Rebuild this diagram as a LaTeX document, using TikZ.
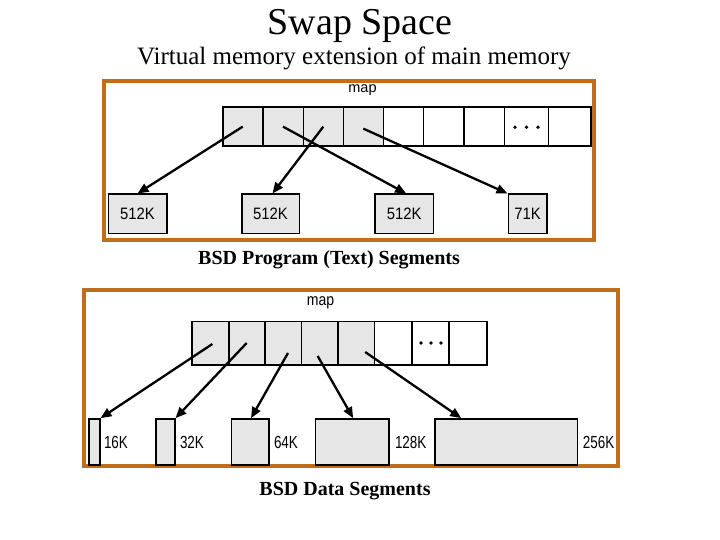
\documentclass[tikz,border=0pt]{standalone}
\usepackage{fontspec}
\setmainfont{Liberation Serif}
\setsansfont{Liberation Sans}
\usetikzlibrary{arrows.meta,calc}
\definecolor{framecol}{RGB}{192,110,28}
\definecolor{cellgray}{RGB}{230,230,230}
\tikzset{
  frame/.style={draw=framecol, line width=4pt},
  cell/.style={draw, line width=1.6pt, inner sep=0pt, fill=white},
  gcell/.style={cell, fill=cellgray},
  seg/.style={draw, line width=1.6pt, inner sep=0pt, fill=cellgray, font=\sffamily\fontsize{16.5}{17}\selectfont},
  lbl/.style={font=\sffamily\fontsize{17.5}{18}\selectfont, inner sep=0pt},
  arr/.style={line width=2.3pt, -{Triangle[length=11pt,width=9pt]}},
  dotc/.style={fill=black, circle, inner sep=0pt, minimum size=3.8pt},
  caption/.style={font=\fontsize{20}{22}\selectfont\bfseries, anchor=base}
}
\begin{document}
\begin{tikzpicture}[x=1pt,y=-1pt]
\useasboundingbox (0,0) rectangle (720,540);
\fill[white] (0,0) rectangle (720,540);

% titles
\node[anchor=base] (title) at (360,35) {\fontsize{38}{40}\selectfont Swap Space};
\node[anchor=base] (subtitle) at (354,65) {\fontsize{25}{27}\selectfont Virtual memory extension of main memory};

% ---------- top panel ----------
\draw[frame] (103.5,81) rectangle (593.5,239.5);
\node[font=\sffamily\fontsize{14.5}{15}\selectfont] (tmap) at (362.5,90) {map};
\node[gcell, minimum width=40pt,   minimum height=38.7pt] (t1) at (242.7,126.65) {};
\node[gcell, minimum width=40.6pt, minimum height=38.7pt] (t2) at (283,126.65) {};
\node[gcell, minimum width=40pt,   minimum height=38.7pt] (t3) at (323.3,126.65) {};
\node[gcell, minimum width=40pt,   minimum height=38.7pt] (t4) at (363.3,126.65) {};
\node[cell,  minimum width=40pt,   minimum height=38.7pt] (t5) at (403.3,126.65) {};
\node[cell,  minimum width=40.7pt, minimum height=38.7pt] (t6) at (443.65,126.65) {};
\node[cell,  minimum width=40.3pt, minimum height=38.7pt] (t7) at (484.15,126.65) {};
\node[cell,  minimum width=44pt,   minimum height=38.7pt] (t8) at (526.3,126.65) {};
\node[cell,  minimum width=42.4pt, minimum height=38.7pt] (t9) at (569.5,126.65) {};
\node[dotc] (td1) at (515,127.3) {};
\node[dotc] (td2) at (526.5,127.3) {};
\node[dotc] (td3) at (538,127.3) {};

\node[seg, minimum width=58.4pt, minimum height=39pt] (p1) at (137.5,213.8) {\scalebox{0.9}[1]{512K}};
\node[seg, minimum width=57.6pt, minimum height=39pt] (p2) at (270.5,213.8) {\scalebox{0.9}[1]{512K}};
\node[seg, minimum width=58.3pt, minimum height=39pt] (p3) at (404.15,213.8) {\scalebox{0.9}[1]{512K}};
\node[seg, minimum width=38.4pt, minimum height=39pt] (p4) at (527.5,213.8) {\scalebox{0.9}[1]{71K}};

\draw[arr] (t1.center) -- (p1.north);
\draw[arr] (t2.center) -- ($(p3.north)+(2,0)$);
\draw[arr] (t3.center) -- ($(p2.north)+(2,0)$);
\draw[arr] ($(t4.center)+(0,2)$) -- (p4.north west);

\node[caption] (cap1) at (329,264) {BSD Program (Text) Segments};

% ---------- bottom panel ----------
\draw[frame] (83.5,289.5) rectangle (617.5,466);
\node[font=\sffamily\fontsize{16.5}{17}\selectfont] (bmap) at (320.5,303) {\scalebox{0.85}[1]{map}};
\node[gcell, minimum width=36.7pt, minimum height=43.4pt] (b1) at (210.35,343) {};
\node[gcell, minimum width=36pt,   minimum height=43.4pt] (b2) at (246.7,343) {};
\node[gcell, minimum width=36.6pt, minimum height=43.4pt] (b3) at (283,343) {};
\node[gcell, minimum width=36.7pt, minimum height=43.4pt] (b4) at (319.65,343) {};
\node[gcell, minimum width=36.3pt, minimum height=43.4pt] (b5) at (356.15,343) {};
\node[cell,  minimum width=37.4pt, minimum height=43.4pt] (b6) at (393,343) {};
\node[cell,  minimum width=37.3pt, minimum height=43.4pt] (b7) at (430.35,343) {};
\node[cell,  minimum width=37.7pt, minimum height=43.4pt] (b8) at (467.85,343) {};
\node[dotc] (bd1) at (421,343) {};
\node[dotc] (bd2) at (431,343) {};
\node[dotc] (bd3) at (441,343) {};

\node[seg, minimum width=11pt,    minimum height=45.7pt] (d1) at (94.2,441.85) {};
\node[seg, minimum width=19pt,    minimum height=45.7pt] (d2) at (165.2,441.85) {};
\node[seg, minimum width=37.4pt,  minimum height=45.7pt] (d3) at (250,441.85) {};
\node[seg, minimum width=73.7pt,  minimum height=45.7pt] (d4) at (352.15,441.85) {};
\node[seg, minimum width=142.3pt, minimum height=45.7pt] (d5) at (506.15,441.85) {};
\node[lbl, anchor=west] (l1) at ($(d1.east)+(3.3,1)$) {\scalebox{0.77}[1]{16K}};
\node[lbl, anchor=west] (l2) at ($(d2.east)+(4.3,1)$) {\scalebox{0.77}[1]{32K}};
\node[lbl, anchor=west] (l3) at ($(d3.east)+(4.3,1)$) {\scalebox{0.77}[1]{64K}};
\node[lbl, anchor=west] (l4) at ($(d4.east)+(5,1)$) {\scalebox{0.77}[1]{128K}};
\node[lbl, anchor=west] (l5) at ($(d5.east)+(4.5,1)$) {\scalebox{0.77}[1]{256K}};

\draw[arr] ($(b1.center)+(2,1)$) -- (d1.north east);
\draw[arr] (b2.center) -- (d2.north east);
\draw[arr] ($(b3.center)+(5,10)$) -- ($(d3.north)+(1,0)$);
\draw[arr] ($(b4.center)+(-2,13)$) -- ($(d4.north)+(1,0)$);
\draw[arr] ($(b5.center)+(9,9)$) -- ($(d5.north west)+(27,0)$);

\node[caption] (cap2) at (345,495) {BSD Data Segments};
\end{tikzpicture}
\end{document}
